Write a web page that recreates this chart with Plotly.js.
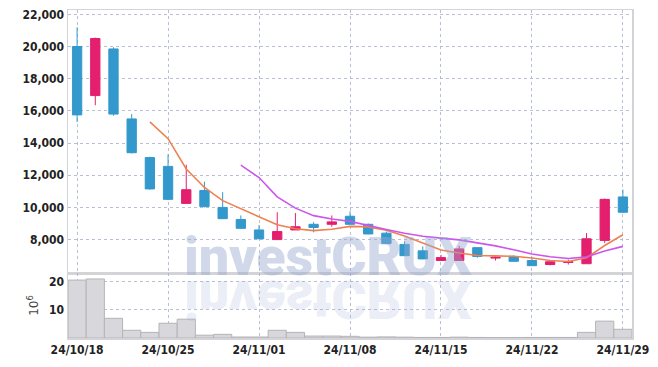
<!DOCTYPE html>
<html>
<head>
<meta charset="utf-8">
<script src="https://cdn.plot.ly/plotly-3.0.1.min.js"></script>
<style>
  html, body { margin: 0; padding: 0; background: #fff; }
  #wrap { position: relative; width: 658px; height: 367px; overflow: hidden; }
  #chart { position: absolute; left: 0; top: 0; width: 658px; height: 367px; }
  .wm { position: absolute; pointer-events: none; font-family: 'Roboto', 'DejaVu Sans', sans-serif; font-weight: 900; font-size: 54px; line-height: 40px; height: 40px; white-space: nowrap; letter-spacing: -0.2px; }
  #wm1 { left: 184px; top: 237px; color: rgba(150,168,208,0.45); }
  #wm2 { left: 184px; top: 237px; color: rgba(150,168,208,0.2); transform: scaleY(-1); transform-origin: 50% 41px; }
</style>
</head>
<body>
<div id="wrap">
  <div id="chart"></div>
  <div class="wm" id="wm1">investCRUX</div>
  <div class="wm" id="wm2">investCRUX</div>
</div>
<script>
const dates = [
  "2024-10-18",
  "2024-10-21","2024-10-22","2024-10-23","2024-10-24","2024-10-25",
  "2024-10-28","2024-10-29","2024-10-30","2024-10-31","2024-11-01",
  "2024-11-04","2024-11-05","2024-11-06","2024-11-07","2024-11-08",
  "2024-11-11","2024-11-12","2024-11-13","2024-11-14","2024-11-15",
  "2024-11-18","2024-11-19","2024-11-20","2024-11-21","2024-11-22",
  "2024-11-25","2024-11-26","2024-11-27","2024-11-28","2024-11-29"
];
const openP  = [20000,16950,19850,15500,13100,12550,10250,11050,10000,9250,8600,8000,8600,8950,8950,9450,8950,8400,7700,7300,6700,6700,7500,6850,6950,6700,6450,6580,6500,7950,10650];
const highP  = [21200,20550,19950,15800,13150,13300,12650,11600,10950,9500,8900,9700,9650,9080,9500,9750,9000,8500,7900,7580,7050,7620,7500,7010,7020,6900,6650,6750,8400,10550,11100];
const lowP   = [15300,16350,15700,13350,11100,10450,10250,10000,9280,8650,8050,8000,8600,8450,8800,8950,8330,7730,7000,6780,6690,6700,6870,6700,6640,6370,6400,6450,6500,7780,9650];
const closeP = [15750,20500,15800,13400,11150,10500,11100,10050,9300,8700,8050,8500,8800,8750,9100,8950,8350,7750,7000,6800,6880,7420,6950,6900,6650,6380,6620,6620,8050,10500,9700];
const volumeM = [20.6,21.0,7.0,2.75,2.0,5.25,6.7,1.0,1.3,0.35,0.35,2.75,2.0,0.7,0.7,0.6,0.3,0.4,0.3,0.2,0.2,0.3,0.2,0.15,0.15,0.2,0.2,0.2,2.0,6.0,3.1];
const tickDates = ["2024-10-18","2024-10-25","2024-11-01","2024-11-08","2024-11-15","2024-11-22","2024-11-29"];
const tickText  = ["24/10/18","24/10/25","24/11/01","24/11/08","24/11/15","24/11/22","24/11/29"];
const priceTicks = [8000,10000,12000,14000,16000,18000,20000,22000];
const volTicks = [10,20];

function movingAverage(vals, n) {
  return vals.map((v, i) => {
    if (i < n - 1) return null;
    let s = 0;
    for (let k = i - n + 1; k <= i; k++) s += vals[k];
    return s / n;
  });
}
const ma5 = movingAverage(closeP, 5);
const ma10 = movingAverage(closeP, 10);

const RED = '#e31f6e', BLUE = '#3399cc';
const gridColor = 'rgba(165,176,205,0.8)';
const tickFont = { family: "'DejaVu Sans Condensed', 'DejaVu Sans', sans-serif", size: 12, color: '#222', weight: 'bold' };

const traces = [
  {
    type: 'candlestick', x: dates, open: openP, high: highP, low: lowP, close: closeP,
    xaxis: 'x', yaxis: 'y',
    increasing: { line: { color: RED, width: 1 }, fillcolor: RED },
    decreasing: { line: { color: BLUE, width: 1 }, fillcolor: BLUE },
    whiskerwidth: 0, showlegend: false, hoverinfo: 'skip'
  },
  { type: 'scatter', mode: 'lines', x: dates, y: ma5, xaxis: 'x', yaxis: 'y',
    line: { color: '#ee8150', width: 1.6 }, showlegend: false, hoverinfo: 'skip' },
  { type: 'scatter', mode: 'lines', x: dates, y: ma10, xaxis: 'x', yaxis: 'y',
    line: { color: '#cc55ee', width: 1.6 }, showlegend: false, hoverinfo: 'skip' },
  { type: 'bar', x: dates, y: volumeM, xaxis: 'x2', yaxis: 'y2',
    marker: { color: '#d8d8dc', line: { color: '#b4b4b8', width: 1 } },
    showlegend: false, hoverinfo: 'skip' }
];

const layout = {
  width: 658, height: 367,
  margin: { l: 68, r: 26, t: 10, b: 29 },
  paper_bgcolor: 'rgba(0,0,0,0)', plot_bgcolor: 'rgba(0,0,0,0)',
  boxgap: 0.27, bargap: 0,
  showlegend: false,
  xaxis: {
    type: 'category', domain: [0, 1], anchor: 'y', range: [-0.5, dates.length - 0.5],
    tickmode: 'array', tickvals: tickDates, ticktext: tickText, showticklabels: false,
    showgrid: true, gridcolor: gridColor, griddash: 'dot', gridwidth: 1,
    showline: true, mirror: true, linecolor: '#d4d4d8', linewidth: 1.5,
    rangeslider: { visible: false }, ticks: '', zeroline: false
  },
  yaxis: {
    domain: [0.198, 1], anchor: 'x', range: [5920, 22270],
    tickmode: 'array', tickvals: priceTicks, tickformat: ',d', tickfont: tickFont,
    showgrid: true, gridcolor: gridColor, griddash: 'dot', gridwidth: 1,
    showline: true, mirror: true, linecolor: '#d4d4d8', linewidth: 1.5, ticks: '', zeroline: false
  },
  xaxis2: {
    type: 'category', domain: [0, 1], anchor: 'y2', range: [-0.5, dates.length - 0.5],
    tickmode: 'array', tickvals: tickDates, ticktext: tickText, tickfont: tickFont,
    showgrid: true, gridcolor: gridColor, griddash: 'dot', gridwidth: 1,
    showline: true, mirror: true, linecolor: '#d4d4d8', linewidth: 1.5,
    rangeslider: { visible: false }, ticks: '', zeroline: false
  },
  yaxis2: {
    domain: [0, 0.198], anchor: 'x2', range: [0, 23.1],
    tickmode: 'array', tickvals: volTicks, tickfont: tickFont,
    showgrid: true, gridcolor: gridColor, griddash: 'dot', gridwidth: 1,
    showline: true, mirror: true, linecolor: '#d4d4d8', linewidth: 1.5, ticks: '', zeroline: false,
    title: { text: '10<sup>6</sup>', font: { family: "'DejaVu Sans', sans-serif", size: 12, color: '#444' }, standoff: 8 }
  }
};

Plotly.newPlot('chart', traces, layout, { displayModeBar: false, staticPlot: true });
</script>
</body>
</html>
